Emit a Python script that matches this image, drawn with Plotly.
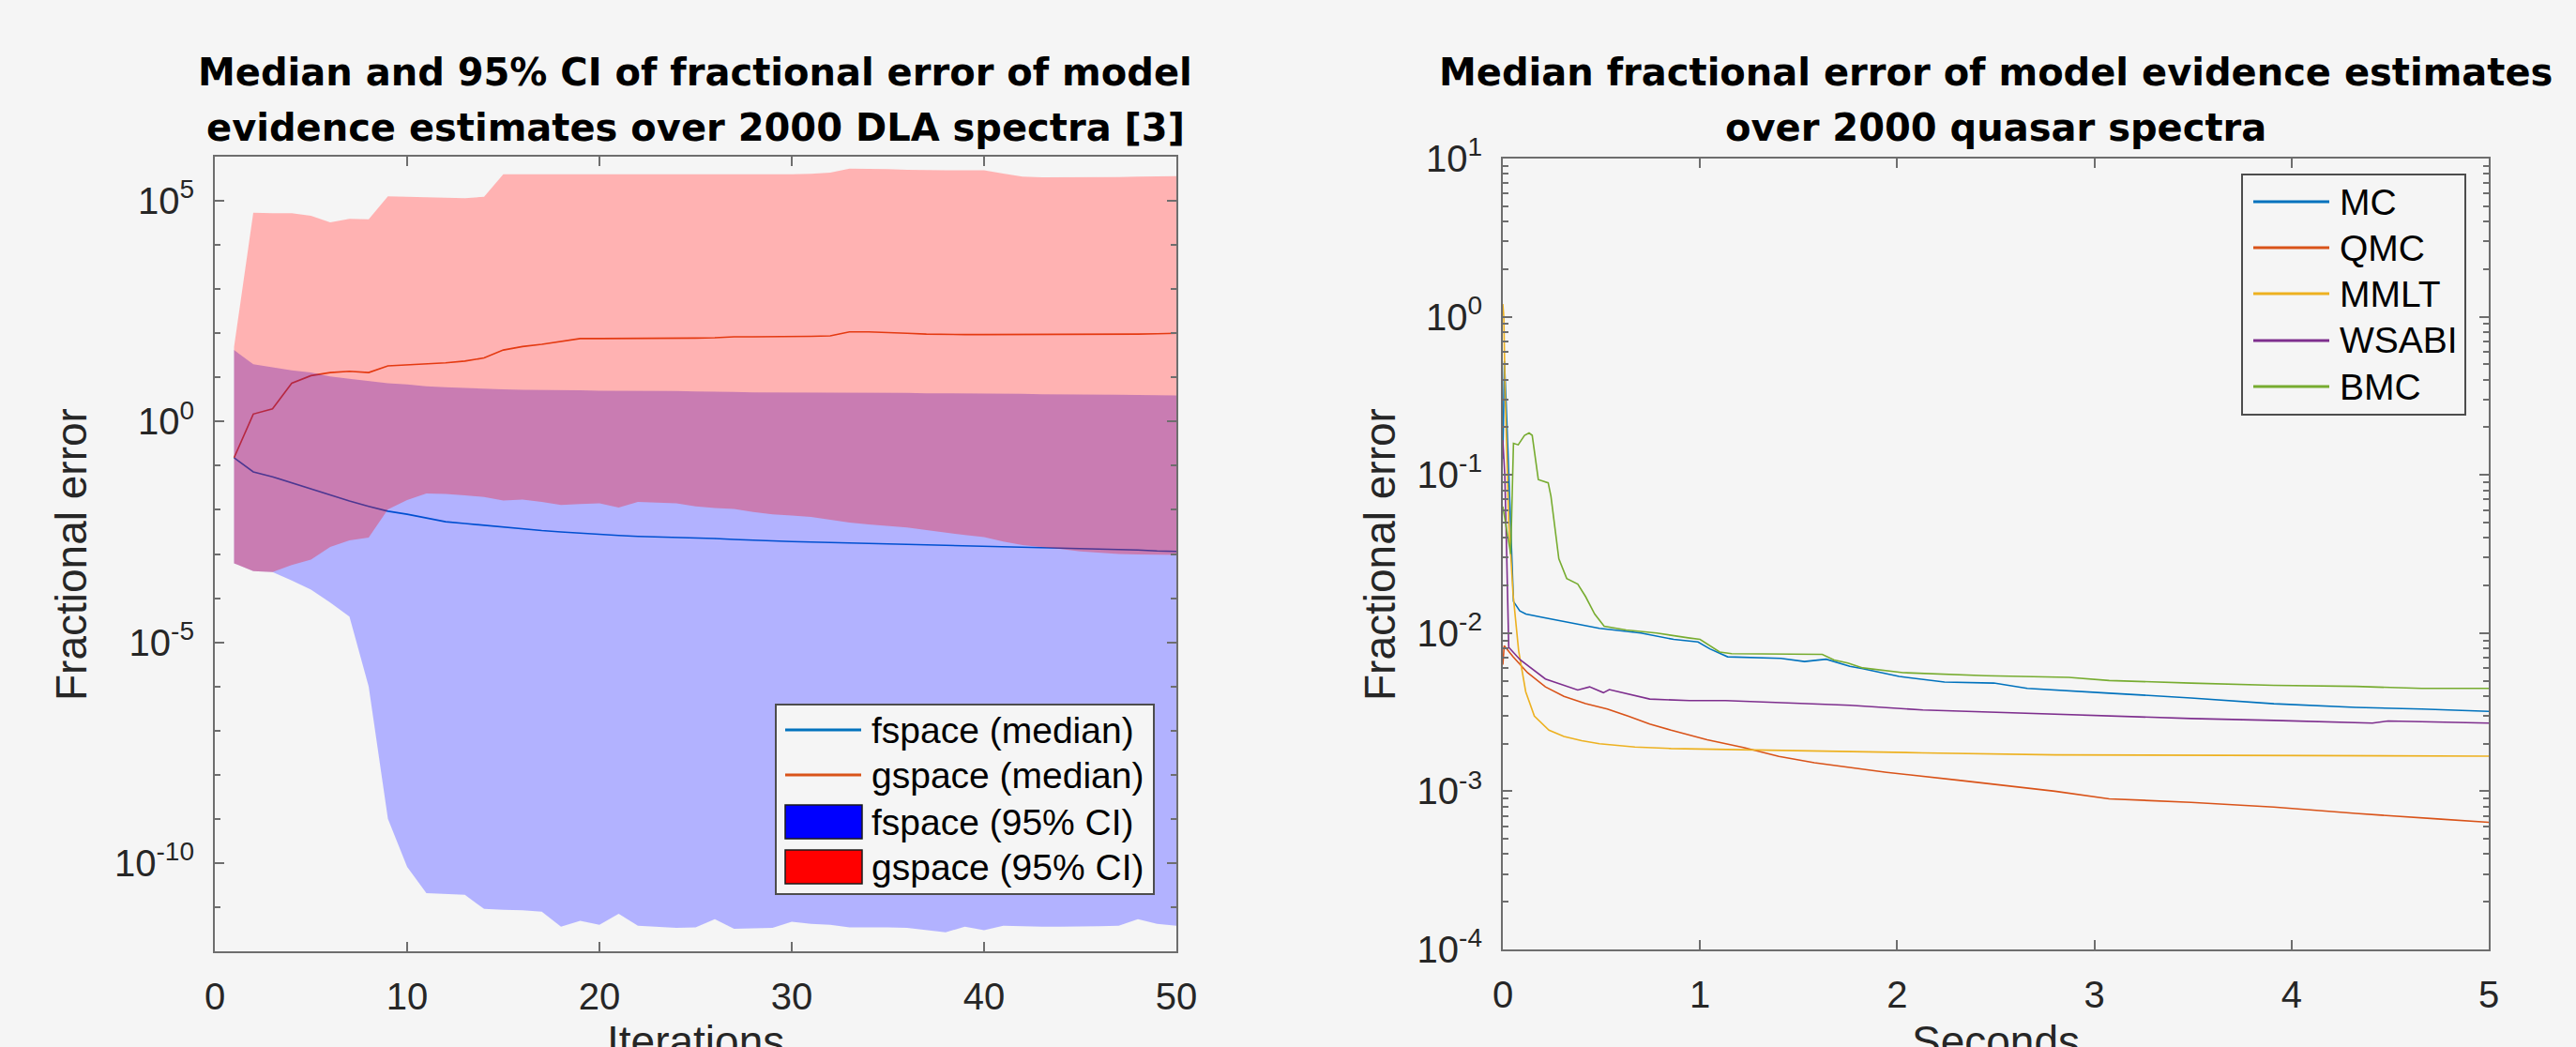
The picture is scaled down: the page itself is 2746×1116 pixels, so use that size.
import numpy as np
import plotly.graph_objects as go

W, H = 2746, 1116

# ---------------- Left panel data (values stored as log10 of fractional error) -------------
iterations = list(range(1, 51))
fspace_median_log10 = [-0.82, -1.14, -1.25, -1.39, -1.53, -1.67, -1.80, -1.92, -2.03, -2.10,
                       -2.19, -2.27, -2.31, -2.35, -2.40, -2.44, -2.47, -2.50, -2.53, -2.56,
                       -2.58, -2.60, -2.61, -2.63, -2.64, -2.65, -2.67, -2.69, -2.70, -2.72,
                       -2.73, -2.74, -2.75, -2.76, -2.77, -2.78, -2.79, -2.80, -2.81, -2.82,
                       -2.83, -2.84, -2.85, -2.86, -2.87, -2.88, -2.90, -2.91, -2.93, -2.94]
gspace_median_log10 = [-0.82, 0.17, 0.29, 0.87, 1.04, 1.11, 1.14, 1.11, 1.26, 1.28,
                       1.30, 1.33, 1.37, 1.44, 1.62, 1.70, 1.75, 1.82, 1.88, 1.88,
                       1.88, 1.88, 1.88, 1.88, 1.89, 1.90, 1.92, 1.92, 1.92, 1.93,
                       1.93, 1.94, 2.03, 2.03, 2.02, 2.00, 1.98, 1.97, 1.97, 1.97,
                       1.97, 1.97, 1.97, 1.97, 1.97, 1.97, 1.98, 1.98, 1.99, 2.00]
fspace_upper_log10 = [1.62, 1.30, 1.23, 1.16, 1.11, 1.02, 0.97, 0.92, 0.87, 0.84,
                      0.80, 0.78, 0.76, 0.75, 0.73, 0.72, 0.72, 0.71, 0.71, 0.70,
                      0.70, 0.70, 0.69, 0.69, 0.68, 0.68, 0.67, 0.66, 0.66, 0.66,
                      0.66, 0.66, 0.65, 0.65, 0.65, 0.65, 0.64, 0.64, 0.64, 0.63,
                      0.63, 0.63, 0.62, 0.62, 0.62, 0.61, 0.61, 0.60, 0.60, 0.59]
fspace_lower_log10 = [-3.21, -3.39, -3.41, -3.60, -3.81, -4.10, -4.42, -6.00, -9.00, -10.09,
                      -10.68, -10.70, -10.72, -11.04, -11.06, -11.07, -11.10, -11.44, -11.31, -11.40,
                      -11.15, -11.42, -11.45, -11.47, -11.46, -11.27, -11.49, -11.48, -11.47, -11.33,
                      -11.38, -11.40, -11.46, -11.46, -11.46, -11.47, -11.52, -11.57, -11.44, -11.52,
                      -11.42, -11.43, -11.44, -11.44, -11.44, -11.43, -11.42, -11.27, -11.38, -11.42]
gspace_upper_log10 = [1.69, 4.73, 4.72, 4.72, 4.66, 4.51, 4.59, 4.58, 5.10, 5.09,
                      5.08, 5.06, 5.06, 5.09, 5.60, 5.60, 5.60, 5.60, 5.60, 5.60,
                      5.60, 5.60, 5.60, 5.59, 5.59, 5.60, 5.60, 5.60, 5.60, 5.60,
                      5.61, 5.64, 5.73, 5.73, 5.72, 5.70, 5.69, 5.69, 5.69, 5.69,
                      5.62, 5.55, 5.53, 5.53, 5.53, 5.54, 5.54, 5.55, 5.56, 5.56]
gspace_lower_log10 = [-3.21, -3.39, -3.41, -3.25, -3.13, -2.84, -2.69, -2.63, -1.99, -1.78,
                      -1.63, -1.64, -1.67, -1.71, -1.79, -1.77, -1.82, -1.89, -1.87, -1.85,
                      -1.95, -1.82, -1.83, -1.85, -1.92, -1.96, -1.98, -2.05, -2.10, -2.13,
                      -2.16, -2.22, -2.29, -2.33, -2.37, -2.40, -2.46, -2.52, -2.57, -2.62,
                      -2.72, -2.80, -2.85, -2.89, -2.94, -2.97, -3.00, -3.01, -3.02, -3.02]

# ---------------- Right panel data (seconds, log10 of median fractional error) -------------
mc_seconds = [0.0, 0.003, 0.008, 0.017, 0.03, 0.045, 0.054, 0.086, 0.117, 0.2, 0.283, 0.49,
              0.70, 0.867, 0.99, 1.05, 1.14, 1.41, 1.53, 1.64, 1.76, 1.825, 2.01, 2.24, 2.49,
              2.66, 3.075, 3.49, 3.91, 4.325, 4.66, 5.0]
mc_log10 = [-0.9, -0.6, -0.28, -0.55, -1.02, -1.60, -1.80, -1.86, -1.88, -1.90, -1.92, -1.97,
            -2.00, -2.04, -2.056, -2.10, -2.15, -2.16, -2.18, -2.165, -2.21, -2.225, -2.274,
            -2.31, -2.316, -2.35, -2.38, -2.41, -2.447, -2.47, -2.48, -2.495]

qmc_seconds = [0.0, 0.007, 0.052, 0.125, 0.216, 0.31, 0.42, 0.53, 0.635, 0.745, 0.853,
               1.036, 1.22, 1.40, 1.58, 1.764, 1.946, 2.31, 2.67, 2.80, 3.075, 3.49, 3.91,
               4.325, 4.74, 5.0]
qmc_log10 = [-2.20, -2.08, -2.15, -2.25, -2.34, -2.40, -2.446, -2.48, -2.525, -2.575, -2.614,
             -2.674, -2.723, -2.78, -2.82, -2.85, -2.88, -2.93, -2.98, -3.00, -3.048, -3.07,
             -3.10, -3.14, -3.175, -3.196]

mmlt_seconds = [0.0, 0.005, 0.012, 0.02, 0.03, 0.04, 0.052, 0.08, 0.116, 0.16, 0.234, 0.31,
                0.40, 0.49, 0.67, 0.853, 1.22, 1.58, 2.13, 2.80, 3.5, 4.2, 5.0]
mmlt_log10 = [0.08, 0.0, -0.5, -0.9, -1.3, -1.5, -1.754, -2.11, -2.37, -2.525, -2.614, -2.654,
              -2.68, -2.70, -2.72, -2.73, -2.739, -2.747, -2.757, -2.77, -2.772, -2.775, -2.778]

wsabi_seconds = [0.0, 0.01, 0.016, 0.025, 0.03, 0.089, 0.216, 0.38, 0.44, 0.51, 0.54, 0.745,
                 0.946, 1.13, 1.49, 1.76, 2.13, 2.49, 2.80, 3.075, 3.49, 3.91, 4.41, 4.49, 5.0]
wsabi_log10 = [-0.78, -1.0, -1.3, -1.9, -2.09, -2.17, -2.29, -2.36, -2.34, -2.377, -2.357,
               -2.417, -2.427, -2.427, -2.446, -2.456, -2.486, -2.50, -2.515, -2.527, -2.54,
               -2.552, -2.569, -2.556, -2.569]

bmc_seconds = [0.0, 0.04, 0.054, 0.078, 0.11, 0.133, 0.149, 0.18, 0.23, 0.244, 0.284, 0.324,
               0.38, 0.42, 0.466, 0.514, 0.625, 0.78, 0.94, 1.0, 1.1, 1.16, 1.62, 1.68, 1.75,
               1.825, 2.03, 2.45, 2.87, 3.075, 3.49, 3.91, 4.325, 4.66, 5.0]
bmc_log10 = [-1.2, -1.5, -0.80, -0.81, -0.75, -0.735, -0.75, -1.03, -1.05, -1.135, -1.53,
             -1.655, -1.69, -1.77, -1.88, -1.957, -1.98, -2.0, -2.03, -2.04, -2.12, -2.13,
             -2.135, -2.17, -2.19, -2.22, -2.25, -2.27, -2.28, -2.30, -2.316, -2.33, -2.337,
             -2.35, -2.35]

# ---------------- Styling ----------------
BG = "#f5f5f5"
AX = "#6e6e6e"
TXT = "#262626"
SANS = "Liberation Sans, Arial, Helvetica, sans-serif"
TITLE_FONT = dict(family="DejaVu Sans", size=40, color="black", weight="bold")
C_MC, C_QMC, C_MMLT, C_WSABI, C_BMC = "#0072BD", "#D95319", "#EDB120", "#7E2F8E", "#77AC30"
LW = 1.6


def pw(v):
    return np.power(10.0, np.array(v, dtype=float))


fig = go.Figure()

# white backing under the translucent bands (MATLAB blends them over a white axes)
band_top = np.maximum(pw(fspace_upper_log10), pw(gspace_upper_log10))
band_bot = np.minimum(pw(fspace_lower_log10), pw(gspace_lower_log10))
fig.add_trace(go.Scatter(x=iterations + iterations[::-1],
                         y=np.concatenate([band_top, band_bot[::-1]]),
                         mode="lines", fill="toself", fillcolor="#ffffff",
                         line=dict(width=0, color="rgba(0,0,0,0)"), hoverinfo="skip",
                         xaxis="x", yaxis="y", showlegend=False))
# median lines (the bands are drawn on top of them, as in the original)
fig.add_trace(go.Scatter(x=iterations, y=pw(fspace_median_log10), mode="lines",
                         line=dict(color=C_MC, width=LW), name="fspace (median)",
                         xaxis="x", yaxis="y", showlegend=False))
fig.add_trace(go.Scatter(x=iterations, y=pw(gspace_median_log10), mode="lines",
                         line=dict(color=C_QMC, width=LW), name="gspace (median)",
                         xaxis="x", yaxis="y", showlegend=False))
# confidence bands
fig.add_trace(go.Scatter(x=iterations + iterations[::-1],
                         y=np.concatenate([pw(fspace_upper_log10), pw(fspace_lower_log10)[::-1]]),
                         mode="lines", fill="toself", fillcolor="rgba(0,0,255,0.3)",
                         line=dict(width=0, color="rgba(0,0,0,0)"), name="fspace (95% CI)",
                         xaxis="x", yaxis="y", showlegend=False))
fig.add_trace(go.Scatter(x=iterations + iterations[::-1],
                         y=np.concatenate([pw(gspace_upper_log10), pw(gspace_lower_log10)[::-1]]),
                         mode="lines", fill="toself", fillcolor="rgba(255,0,0,0.3)",
                         line=dict(width=0, color="rgba(0,0,0,0)"), name="gspace (95% CI)",
                         xaxis="x", yaxis="y", showlegend=False))

for xs, ys, col, nm in [(mc_seconds, mc_log10, C_MC, "MC"),
                        (qmc_seconds, qmc_log10, C_QMC, "QMC"),
                        (mmlt_seconds, mmlt_log10, C_MMLT, "MMLT"),
                        (wsabi_seconds, wsabi_log10, C_WSABI, "WSABI"),
                        (bmc_seconds, bmc_log10, C_BMC, "BMC")]:
    fig.add_trace(go.Scatter(x=xs, y=pw(ys), mode="lines", line=dict(color=col, width=LW),
                             name=nm, xaxis="x2", yaxis="y2", showlegend=False))


def px(x):
    return x / W


def py(y):
    return 1 - y / H


axis_common = dict(showline=True, linecolor=AX, linewidth=2, mirror="ticks", ticks="inside",
                   ticklen=10, tickwidth=2, tickcolor=AX, showgrid=False, zeroline=False,
                   tickfont=dict(family=SANS, size=40, color=TXT), automargin=False)

left_major = [1e-10, 1e-5, 1e0, 1e5]
left_major_text = ["10<sup>-10</sup>", "10<sup>-5</sup>", "10<sup>0</sup>", "10<sup>5</sup>"]
left_minor = [10.0 ** k for k in range(-12, 7)]
right_major = [10.0 ** k for k in range(-4, 2)]
right_major_text = ["10<sup>-4</sup>", "10<sup>-3</sup>", "10<sup>-2</sup>", "10<sup>-1</sup>",
                    "10<sup>0</sup>", "10<sup>1</sup>"]
right_minor = [m * 10.0 ** k for k in range(-4, 1) for m in range(2, 10)]

fig.update_layout(
    width=W, height=H, paper_bgcolor=BG, plot_bgcolor=BG,
    margin=dict(l=0, r=0, t=0, b=0),
    xaxis=dict(domain=[px(229), px(1254)], anchor="y", range=[0, 50], tickmode="array",
               tickvals=[0, 10, 20, 30, 40, 50], ticklabelstandoff=12, **axis_common),
    yaxis=dict(domain=[py(1014), py(167)], anchor="x", type="log", range=[-12, 6],
               tickmode="array", tickvals=left_major, ticktext=left_major_text,
               ticklabelstandoff=12,
               minor=dict(tickvals=left_minor, ticks="inside", ticklen=6, tickwidth=1.5,
                          tickcolor=AX),
               **axis_common),
    xaxis2=dict(domain=[px(1602), px(2653)], anchor="y2", range=[0, 5], tickmode="array",
                tickvals=[0, 1, 2, 3, 4, 5], ticklabelstandoff=12, **axis_common),
    yaxis2=dict(domain=[py(1012), py(169)], anchor="x2", type="log", range=[-4, 1],
                tickmode="array", tickvals=right_major, ticktext=right_major_text,
                ticklabelstandoff=12,
                minor=dict(tickvals=right_minor, ticks="inside", ticklen=6, tickwidth=1.5,
                           tickcolor=AX),
                **axis_common),
    showlegend=False,
)

annotations = []
# titles (one annotation per line)
for x, y, txt in [(741, 77, "Median and 95% CI of fractional error of model"),
                  (741, 136, "evidence estimates over 2000 DLA spectra [3]"),
                  (2127, 77, "Median fractional error of model evidence estimates"),
                  (2127, 136, "over 2000 quasar spectra")]:
    annotations.append(dict(x=px(x), y=py(y), xref="paper", yref="paper", text=txt,
                            showarrow=False, xanchor="center", yanchor="middle",
                            font=TITLE_FONT))
# axis titles
lab_font = dict(family=SANS, size=46, color=TXT)
annotations += [
    dict(x=px(741), y=py(1110), xref="paper", yref="paper", text="Iterations", showarrow=False,
         xanchor="center", yanchor="middle", font=lab_font),
    dict(x=px(2127), y=py(1110), xref="paper", yref="paper", text="Seconds", showarrow=False,
         xanchor="center", yanchor="middle", font=lab_font),
    dict(x=px(76), y=py(591), xref="paper", yref="paper", text="Fractional error",
         showarrow=False, textangle=-90, xanchor="center", yanchor="middle", font=lab_font),
    dict(x=px(1471), y=py(591), xref="paper", yref="paper", text="Fractional error",
         showarrow=False, textangle=-90, xanchor="center", yanchor="middle", font=lab_font),
]

# ---------------- hand-built legends ----------------
shapes = []
leg_font = dict(family=SANS, size=39, color="black")
# left legend
shapes.append(dict(type="rect", xref="paper", yref="paper", x0=px(827), x1=px(1230),
                   y0=py(953), y1=py(751), line=dict(color="#4d4d4d", width=2), fillcolor=BG))
left_rows = [(778, "line", C_MC, "fspace (median)"),
             (826, "line", C_QMC, "gspace (median)"),
             (876, "box", "#0000FF", "fspace (95% CI)"),
             (924, "box", "#FF0000", "gspace (95% CI)")]
for yc, kind, col, txt in left_rows:
    if kind == "line":
        shapes.append(dict(type="line", xref="paper", yref="paper", x0=px(837), x1=px(918),
                           y0=py(yc), y1=py(yc), line=dict(color=col, width=3)))
    else:
        shapes.append(dict(type="rect", xref="paper", yref="paper", x0=px(837), x1=px(919),
                           y0=py(yc + 18), y1=py(yc - 18), fillcolor=col,
                           line=dict(color="#1a1a1a", width=1.5)))
    annotations.append(dict(x=px(927), y=py(yc), xref="paper", yref="paper", text=txt,
                            showarrow=False, xanchor="left", yanchor="middle", font=leg_font))
# right legend
shapes.append(dict(type="rect", xref="paper", yref="paper", x0=px(2390), x1=px(2628),
                   y0=py(442), y1=py(186), line=dict(color="#4d4d4d", width=2), fillcolor=BG))
for yc, col, txt in [(215, C_MC, "MC"), (264, C_QMC, "QMC"), (313, C_MMLT, "MMLT"),
                     (363, C_WSABI, "WSABI"), (412, C_BMC, "BMC")]:
    shapes.append(dict(type="line", xref="paper", yref="paper", x0=px(2402), x1=px(2483),
                       y0=py(yc), y1=py(yc), line=dict(color=col, width=3)))
    annotations.append(dict(x=px(2492), y=py(yc), xref="paper", yref="paper", text=txt,
                            showarrow=False, xanchor="left", yanchor="middle", font=leg_font))

fig.update_layout(annotations=annotations, shapes=shapes)
fig.write_html("out.html", config={"displayModeBar": False},
               post_script="document.body.style.margin='0px';"
                           "document.body.style.overflow='hidden';")
